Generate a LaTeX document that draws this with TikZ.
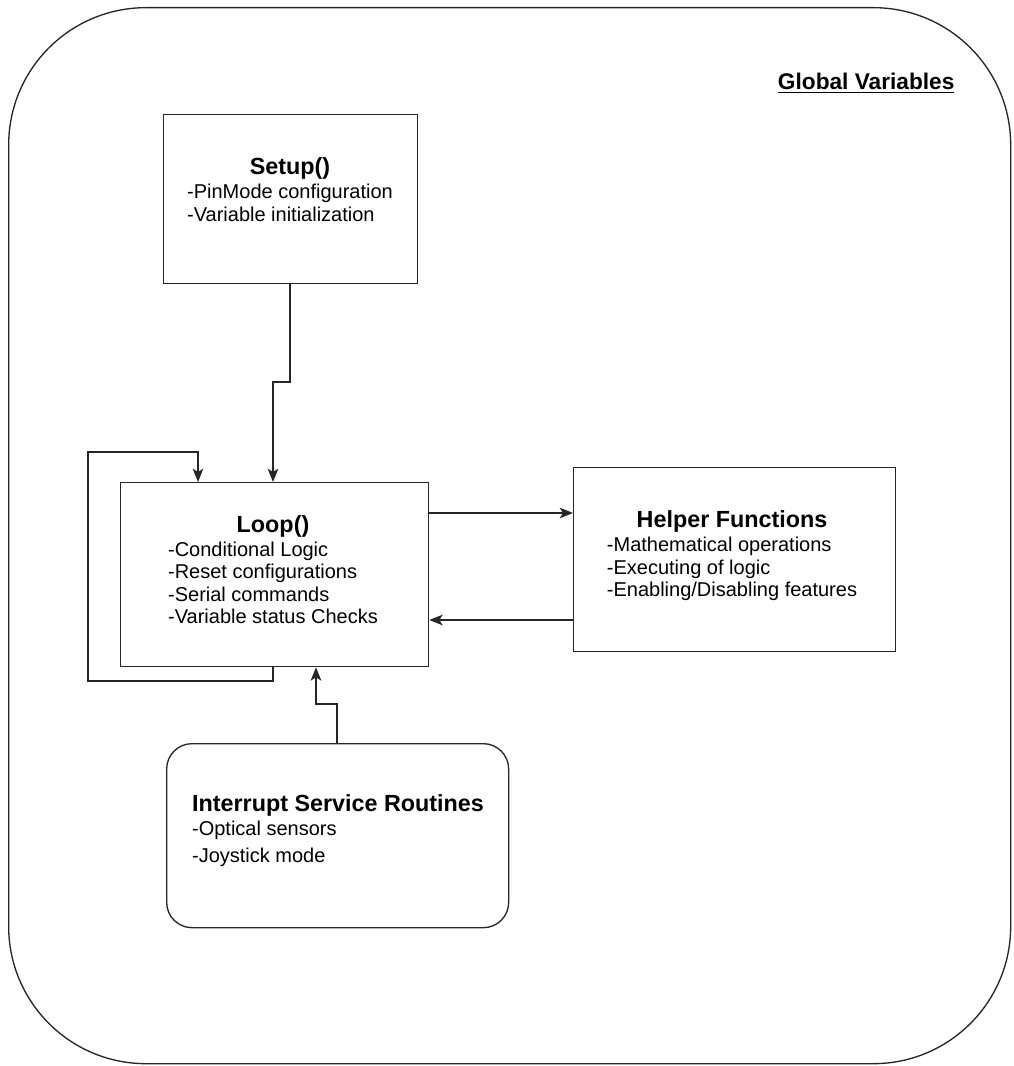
\documentclass[tikz,border=0pt]{standalone}
\usepackage{fontspec}
\setmainfont{Liberation Sans}
\usetikzlibrary{arrows.meta}
\newcommand{\ttl}{\bfseries\fontsize{17.5pt}{16.9pt}\selectfont}
\begin{document}
\begin{tikzpicture}[x=0.75pt,y=-0.75pt,
  line width=1pt, draw=black!85,
  box/.style={draw, line width=1pt, rectangle, inner sep=0pt, anchor=north west},
  rbox/.style={box, rounded corners=19pt},
  lbl/.style={inner sep=0pt, font=\fontsize{15pt}{16.9pt}\selectfont, align=left},
  conn/.style={-{Stealth[length=10pt,width=8pt,inset=2.5pt]}, line width=1pt}
]
\useasboundingbox (0,0) rectangle (1013,1066);
\node[draw, line width=1pt, rectangle, rounded corners=103pt, minimum width=1002*0.75pt, minimum height=1056*0.75pt, anchor=north west, inner sep=0pt] (outer) at (8,7) {};

\node[font=\bfseries\fontsize{17pt}{18pt}\selectfont, anchor=east, inner sep=0pt] (gv) at (955,83) {\underline{Global Variables}};

\node[box, minimum width=254*0.75pt, minimum height=169*0.75pt] (setup) at (163,114) {};
\node[box, minimum width=308*0.75pt, minimum height=184*0.75pt] (loop) at (120,482) {};
\node[box, minimum width=322*0.75pt, minimum height=184*0.75pt] (helper) at (573,467) {};
\node[rbox, minimum width=342*0.75pt, minimum height=184*0.75pt] (isr) at (166,743) {};

\node[lbl] (setupt) at (290,193) {\begin{tabular}{@{}l@{}}\multicolumn{1}{@{}c@{}}{\ttl Setup()}\\[1pt] -PinMode configuration\\ -Variable initialization\end{tabular}};
\node[lbl] (loopt) at (273,573) {\begin{tabular}{@{}l@{}}\multicolumn{1}{@{}c@{}}{\ttl Loop()}\\[1pt] -Conditional Logic\\ -Reset configurations\\ -Serial commands\\ -Variable status Checks\end{tabular}};
\node[lbl] (helpert) at (732,557) {\begin{tabular}{@{}l@{}}\multicolumn{1}{@{}c@{}}{\ttl Helper Functions}\\[1pt] -Mathematical operations\\ -Executing of logic\\ -Enabling/Disabling features\end{tabular}};
\node[lbl] (isrt) at (338,832) {\begin{tabular}{@{}l@{}}{\ttl Interrupt Service Routines}\\[1pt] -Optical sensors\\[3pt] -Joystick mode\end{tabular}};

% Setup -> Loop
\draw[conn] (setup.south west -| 290,0) -- (290,382) -- (273,382) -- (loop.north west -| 273,0);
% Loop self-loop
\draw[conn] (loop.south west -| 273,0) -- (273,681) -- (88,681) -- (88,452) -- (198,452) -- (loop.north west -| 198,0);
% Loop -> Helper
\draw[conn] (loop.north east |- 0,513) -- (helper.north west |- 0,513);
% Helper -> Loop
\draw[conn] (helper.north west |- 0,620) -- (loop.north east |- 0,620);
% ISR -> Loop
\draw[conn] (isr.north west -| 337,0) -- (337,704) -- (316,704) -- (loop.south west -| 316,0);
\end{tikzpicture}
\end{document}
